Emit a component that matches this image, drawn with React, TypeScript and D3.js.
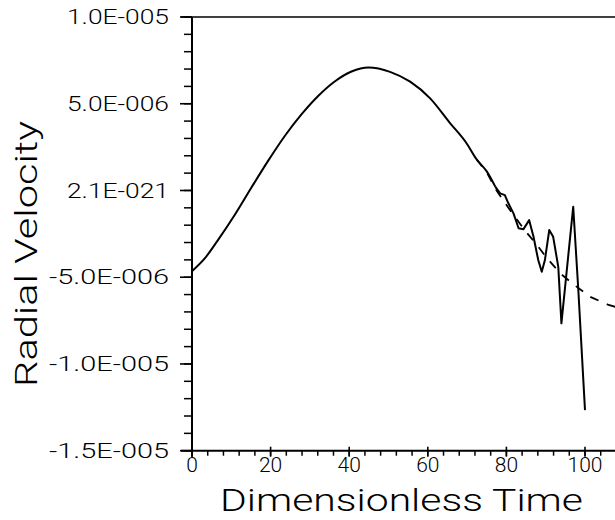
import React from "react";
import * as d3 from "d3";

// Solid curve: time, radial velocity (units of 1e-6)
const solidT = [0, 3.3, 6.6, 10.9, 15.2, 19.4, 23.7, 27.9, 32.1, 36.4, 40.6, 44.9, 50.4, 55.5, 60.6, 65.6, 69.9, 72.4, 75.0, 77.2, 78.4, 79.6, 80.5, 81.8, 83.1, 84.3, 85.8, 86.9, 88.1, 89.0, 89.8, 90.9, 91.9, 93.2, 94.0, 97.0, 98.3, 100.0];
const solidV = [-4.65, -3.9, -2.86, -1.4, 0.2, 1.72, 3.17, 4.4, 5.45, 6.3, 6.86, 7.09, 6.84, 6.27, 5.31, 3.9, 2.71, 1.8, 1.1, 0.21, -0.17, -0.27, -0.74, -1.32, -2.18, -2.24, -1.71, -2.67, -4.01, -4.68, -4.01, -2.28, -2.67, -4.4, -7.66, -0.94, -5.74, -12.66];
// Dashed curve (smooth reference), diverging after t≈78
const dashT = [72.4, 75.0, 77.5, 80.5, 84.7, 87.8, 90.5, 93.8, 97.6, 101.5, 106.0, 110.0];
const dashV = [1.8, 1.05, 0.0, -1.0, -2.3, -3.15, -3.95, -4.8, -5.5, -6.15, -6.6, -6.85];

const yTickValues = [10, 5, 0, -5, -10, -15];
const yTickLabels = ["1.0E-005", "5.0E-006", "2.1E-021", "-5.0E-006", "-1.0E-005", "-1.5E-005"];
const xTickValues = [0, 20, 40, 60, 80, 100];
const xTickLabels = ["0", "20", "40", "60", "80", "100"];
const xTitle = "Dimensionless Time";
const yTitle = "Radial Velocity";

export default function App() {
  const W = 615, H = 520;
  const x = d3.scaleLinear().domain([0, 100]).range([192, 585]);
  const y = d3.scaleLinear().domain([-15, 10]).range([450.7, 17]);
  const font = "'Liberation Sans', Arial, sans-serif";
  const lightFont = "Roboto, 'Liberation Sans', Arial, sans-serif";

  const solid = solidT.map((t, i) => [t, solidV[i]] as [number, number]);
  const dashed = dashT.map((t, i) => [t, dashV[i]] as [number, number]);
  const smoothPart = solid.filter(d => d[0] <= 77.3);
  const jaggedPart = solid.filter(d => d[0] >= 77.2);

  const lineSmooth = d3.line<[number, number]>().x(d => x(d[0])).y(d => y(d[1])).curve(d3.curveMonotoneX);
  const lineLin = d3.line<[number, number]>().x(d => x(d[0])).y(d => y(d[1]));

  const yMinor = d3.range(-15, 10.01, 1);
  const xMinor = d3.range(0, 112, 4);
  const x0 = x(0);
  const yBottom = y(-15);

  return (
    <div style={{ position: "fixed", left: 0, top: 0, width: W, height: H, overflow: "hidden", background: "#fff" }}>
      <svg width={W} height={H} style={{ display: "block" }}>
        <rect width={W} height={H} fill="#fff" />
        {/* top frame line */}
        <line x1={181} x2={W} y1={y(10)} y2={y(10)} stroke="#000" strokeWidth={1.6} />
        {/* y axis */}
        <line x1={x0} x2={x0} y1={y(10)} y2={yBottom + 6} stroke="#000" strokeWidth={2} />
        {yMinor.map(v => (
          <line key={"ym" + v} x1={x0 - 8} x2={x0} y1={y(v)} y2={y(v)} stroke="#000" strokeWidth={1.5} />
        ))}
        {yTickValues.map(v => (
          <line key={"yM" + v} x1={x0 - 12} x2={x0} y1={y(v)} y2={y(v)} stroke="#000" strokeWidth={1.6} />
        ))}
        {yTickValues.map((v, i) => (
          <text key={"yl" + v} x={169} y={y(v)} dy="0.36em" textAnchor="end" fontFamily={lightFont} fontWeight={300} fontSize={20}
            textLength={yTickLabels[i].startsWith("-") ? 120 : 102} lengthAdjust="spacingAndGlyphs">{yTickLabels[i]}</text>
        ))}
        {/* x axis */}
        <line x1={181} x2={W} y1={yBottom} y2={yBottom} stroke="#000" strokeWidth={2} />
        {xMinor.map(t => (
          <line key={"xm" + t} x1={x(t)} x2={x(t)} y1={yBottom} y2={yBottom + 5} stroke="#000" strokeWidth={1.5} />
        ))}
        {xTickValues.map(t => (
          <line key={"xM" + t} x1={x(t)} x2={x(t)} y1={yBottom - 4} y2={yBottom + 6} stroke="#000" strokeWidth={1.6} />
        ))}
        {xTickValues.map((t, i) => (
          <text key={"xl" + t} x={x(t)} y={472} textAnchor="middle" fontFamily={lightFont} fontWeight={300} fontSize={21}>{xTickLabels[i]}</text>
        ))}
        {/* titles */}
        <text x={401.5} y={511} textAnchor="middle" fontFamily={lightFont} fontWeight={300} fontSize={31} textLength={363} lengthAdjust="spacingAndGlyphs">{xTitle}</text>
        <text transform={`translate(37, 254) rotate(-90)`} textAnchor="middle" fontFamily={lightFont} fontWeight={300} fontSize={31} textLength={266} lengthAdjust="spacingAndGlyphs">{yTitle}</text>
        {/* curves */}
        <path d={lineLin(dashed) || ""} fill="none" stroke="#000" strokeWidth={1.8} strokeDasharray="9 9" />
        <path d={lineSmooth(smoothPart) || ""} fill="none" stroke="#000" strokeWidth={2} />
        <path d={lineLin(jaggedPart) || ""} fill="none" stroke="#000" strokeWidth={2} strokeLinejoin="round" />
      </svg>
    </div>
  );
}
